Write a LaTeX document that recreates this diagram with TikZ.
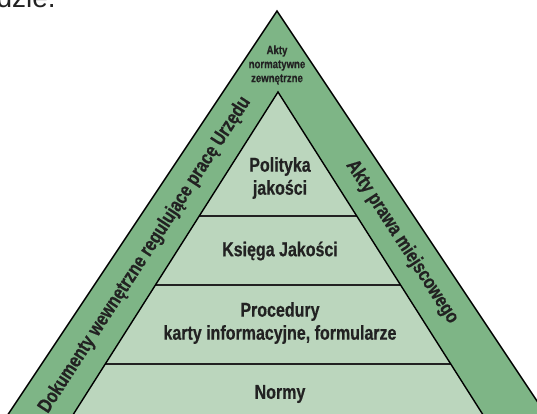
\documentclass[tikz,border=0pt]{standalone}
\usepackage{fontspec}
\setmainfont{Liberation Sans}
\newfontfamily\condfont[FakeStretch=0.8,BoldFeatures={FakeBold=0.5}]{Liberation Sans}
\definecolor{bandgreen}{RGB}{126,181,134}
\definecolor{layergreen}{RGB}{187,214,189}
\definecolor{inkgray}{RGB}{34,34,34}
\begin{document}
\begin{tikzpicture}[x=1pt,y=-1pt,
  edge/.style={draw=black,line width=1.4pt,line join=miter},
  divider/.style={draw=inkgray,line width=1.6pt},
  layerlabel/.style={font=\condfont\bfseries\fontsize{20}{24}\selectfont,text=inkgray,align=center,inner sep=0pt},
  bandlabel/.style={font=\condfont\bfseries\fontsize{20}{24}\selectfont,text=inkgray,inner sep=0pt},
  toplabel/.style={font=\condfont\bfseries\fontsize{12}{14}\selectfont,text=inkgray,align=center,inner sep=0pt}]
\useasboundingbox (0,0) rectangle (537,414);
\clip (0,0) rectangle (537,414);

% trailing words of the preceding sentence
\node[anchor=base west,inner sep=0pt,text=inkgray,font=\fontsize{28}{30}\selectfont] (prev) at (-3.6,8) {dzie.};

% outer triangle (band) and inner triangle (layers)
\coordinate (oA) at (277,11);
\coordinate (oL) at (-9,440);
\coordinate (oR) at (563,440);
\coordinate (iA) at (278,92);
\coordinate (iL) at (57,440);
\coordinate (iR) at (499,440);

\fill[bandgreen] (oA) -- (oL) -- (oR) -- cycle;
\fill[layergreen] (iA) -- (iL) -- (iR) -- cycle;

% layer dividers, kept inside the inner triangle
\begin{scope}
  \clip (iA) -- (iL) -- (iR) -- cycle;
  \coordinate (d1l) at (0,216);  \coordinate (d1r) at (537,216);
  \coordinate (d2l) at (0,285);  \coordinate (d2r) at (537,285);
  \coordinate (d3l) at (0,364);  \coordinate (d3r) at (537,364);
  \draw[divider] (d1l) -- (d1r);
  \draw[divider] (d2l) -- (d2r);
  \draw[divider] (d3l) -- (d3r);
\end{scope}

\draw[edge] (oL) -- (oA) -- (oR);
\draw[edge] (iL) -- (iA) -- (iR);

% layer texts
\node[layerlabel] (pol) at (280,178) {Polityka\\[-1pt]jakości};
\node[layerlabel] (ks) at (280,251) {Księga Jakości};
\node[layerlabel] (proc) at (280,323) {Procedury\\[-1pt]karty informacyjne, formularze};
\node[layerlabel] (norm) at (280,394) {Normy};

% band texts
\node[toplabel] (ext) at (277,65) {Akty\\normatywne\\zewnętrzne};
\node[bandlabel,rotate=57] (inner) at (145,255) {Dokumenty wewnętrzne regulujące pracę Urzędu};
\node[bandlabel,rotate=-57] (local) at (402,242) {Akty prawa miejscowego};
\end{tikzpicture}
\end{document}
